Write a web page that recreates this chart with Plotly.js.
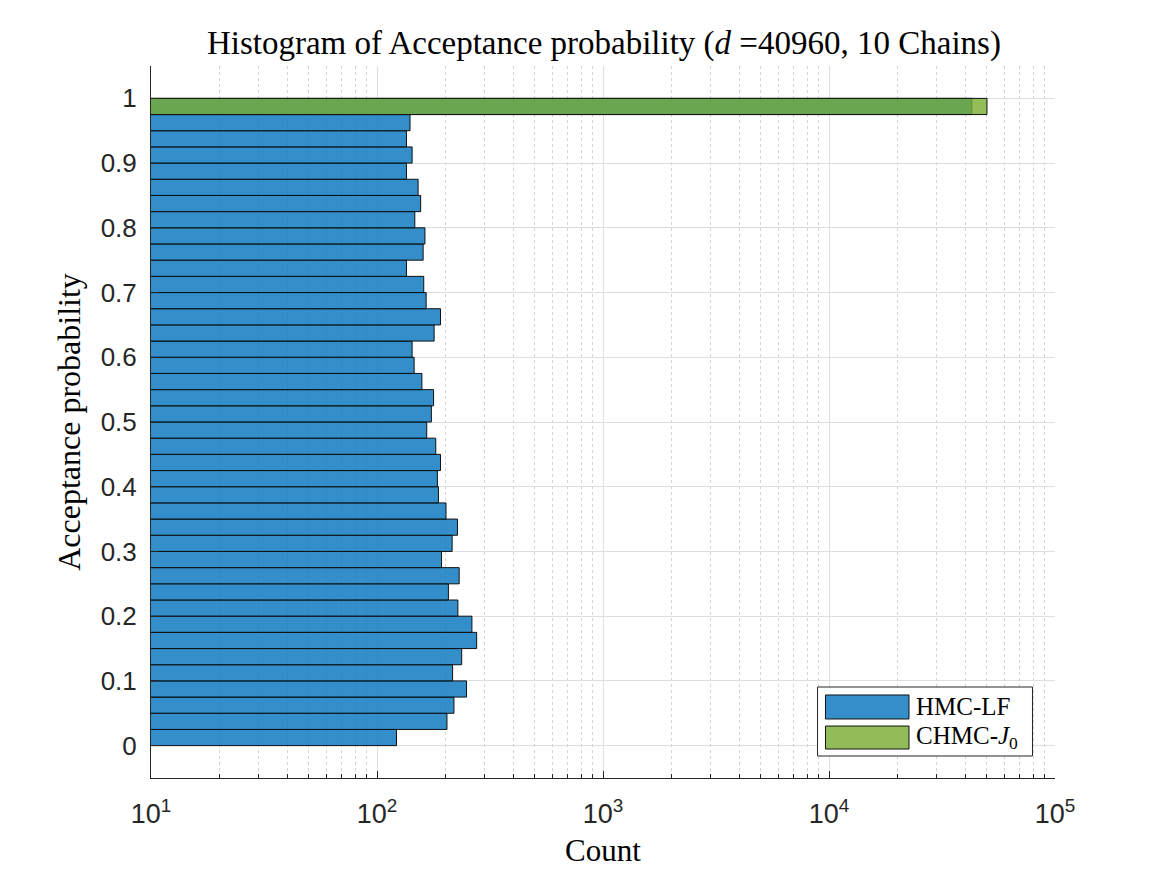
<!DOCTYPE html>
<html>
<head>
<meta charset="utf-8">
<script src="https://cdn.plot.ly/plotly-3.0.1.min.js"></script>
<style>html,body{margin:0;padding:0;background:#fff;}#chart{width:1167px;height:875px;}</style>
</head>
<body>
<div id="chart"></div>
<script>
// Bin centres of the acceptance-probability histogram (bin width 0.025)
const binCenters = [0.0125,0.0375,0.0625,0.0875,0.1125,0.1375,0.1625,0.1875,0.2125,0.2375,
  0.2625,0.2875,0.3125,0.3375,0.3625,0.3875,0.4125,0.4375,0.4625,0.4875,
  0.5125,0.5375,0.5625,0.5875,0.6125,0.6375,0.6625,0.6875,0.7125,0.7375,
  0.7625,0.7875,0.8125,0.8375,0.8625,0.8875,0.9125,0.9375,0.9625,0.9875];
const binWidth = 0.025;
// HMC-LF counts per bin
const hmcCounts = [122,204,219,249,216,237,276,263,228,207,
  231,193,215,227,202,187,185,191,182,166,
  174,178,158,146,143,179,191,165,161,135,
  160,163,147,156,152,135,143,135,140,42840];
// CHMC-J0 counts per bin (all samples in the last bin)
const chmcCounts = [0,0,0,0,0,0,0,0,0,0,
  0,0,0,0,0,0,0,0,0,0,
  0,0,0,0,0,0,0,0,0,0,
  0,0,0,0,0,0,0,0,0,50000];
const yTickVals = [0,0.1,0.2,0.3,0.4,0.5,0.6,0.7,0.8,0.9,1];
const yTickText = ['0','0.1','0.2','0.3','0.4','0.5','0.6','0.7','0.8','0.9','1'];
const xTickVals = [10,100,1000,10000,100000];
const xTickText = ['10<sup>1</sup>','10<sup>2</sup>','10<sup>3</sup>','10<sup>4</sup>','10<sup>5</sup>'];
const xMinorVals = [20,30,40,50,60,70,80,90,200,300,400,500,600,700,800,900,
  2000,3000,4000,5000,6000,7000,8000,9000,20000,30000,40000,50000,60000,70000,80000,90000];
const seriesNames = ['HMC-LF','CHMC-<i>J</i><sub>0</sub>'];
const fillColors = ['rgba(0,114,189,0.8)','rgba(119,172,48,0.8)'];
const legendColors = ['#338eca','#92bc59'];

function nz(counts){
  const x=[],y=[];
  counts.forEach((c,i)=>{ if(c>0){x.push(c);y.push(binCenters[i]);} });
  return {x,y};
}
const d1 = nz(hmcCounts), d2 = nz(chmcCounts);
const traces = [
  {type:'bar', orientation:'h', x:d1.x, y:d1.y, width:binWidth, name:seriesNames[0],
   marker:{color:fillColors[0], line:{color:'#111', width:1}}, showlegend:false, hoverinfo:'x+y'},
  {type:'bar', orientation:'h', x:d2.x, y:d2.y, width:binWidth, name:seriesNames[1],
   marker:{color:fillColors[1], line:{color:'#111', width:1}}, showlegend:false, hoverinfo:'x+y'}
];

const serif = 'Liberation Serif, Times New Roman, serif';
const sans = 'Liberation Sans, Arial, Helvetica, sans-serif';

// Legend drawn in paper coordinates
const lg = {x0:0.7373, x1:0.9751, y0:0.0309, y1:0.1278};
const sw = [{y0:0.0829,y1:0.1166},{y0:0.0407,y1:0.0730}];
const shapes = [
  {type:'rect', xref:'paper', yref:'paper', x0:lg.x0, x1:lg.x1, y0:lg.y0, y1:lg.y1,
   fillcolor:'#fff', line:{color:'#262626', width:1}},
  {type:'rect', xref:'paper', yref:'paper', x0:0.7461, x1:0.8385, y0:sw[0].y0, y1:sw[0].y1,
   fillcolor:legendColors[0], line:{color:'#111', width:1}},
  {type:'rect', xref:'paper', yref:'paper', x0:0.7461, x1:0.8385, y0:sw[1].y0, y1:sw[1].y1,
   fillcolor:legendColors[1], line:{color:'#111', width:1}}
];
const annotations = [
  {xref:'paper', yref:'paper', x:0.8440, y:(sw[0].y0+sw[0].y1)/2, xanchor:'left', yanchor:'middle',
   text:seriesNames[0], showarrow:false, font:{family:serif, size:25, color:'#000'}},
  {xref:'paper', yref:'paper', x:0.8440, y:(sw[1].y0+sw[1].y1)/2, xanchor:'left', yanchor:'middle',
   text:seriesNames[1], showarrow:false, font:{family:serif, size:25, color:'#000'}}
];

const layout = {
  width:1167, height:875,
  margin:{l:151, r:112, t:66, b:97},
  paper_bgcolor:'#fff', plot_bgcolor:'#fff',
  barmode:'overlay', bargap:0,
  showlegend:false,
  title:{text:'Histogram of Acceptance probability (<i>d</i> =40960, 10 Chains)',
    font:{family:serif, size:33, color:'#000'}, x:0.5175, xanchor:'center', y:0.952, yanchor:'middle'},
  xaxis:{type:'log', range:[1,5], tickvals:xTickVals, ticktext:xTickText,
    ticks:'inside', ticklen:7, tickcolor:'#262626', tickwidth:1,
    showline:true, linecolor:'#262626', linewidth:1, mirror:false,
    showgrid:true, gridcolor:'#dedede', gridwidth:1, zeroline:false,
    tickfont:{family:sans, size:27, color:'#262626'}, ticklabelstandoff:12,
    minor:{tickvals:xMinorVals, ticks:'inside', ticklen:4, tickcolor:'#262626',
      showgrid:true, gridcolor:'#d4d4d4', griddash:'dot', gridwidth:1},
    title:{text:'Count', font:{family:serif, size:31, color:'#000'}, standoff:10}},
  yaxis:{range:[-0.05,1.05], tickvals:yTickVals, ticktext:yTickText,
    ticks:'inside', ticklen:7, tickcolor:'#262626',
    showline:true, linecolor:'#262626', linewidth:1, mirror:false,
    showgrid:true, gridcolor:'#dedede', zeroline:false,
    tickfont:{family:sans, size:26, color:'#262626'}, ticklabelstandoff:8,
    title:{text:'Acceptance probability', font:{family:serif, size:32, color:'#000'}, standoff:10}},
  shapes:shapes, annotations:annotations
};

Plotly.newPlot('chart', traces, layout, {staticPlot:true, displayModeBar:false});
</script>
</body>
</html>
